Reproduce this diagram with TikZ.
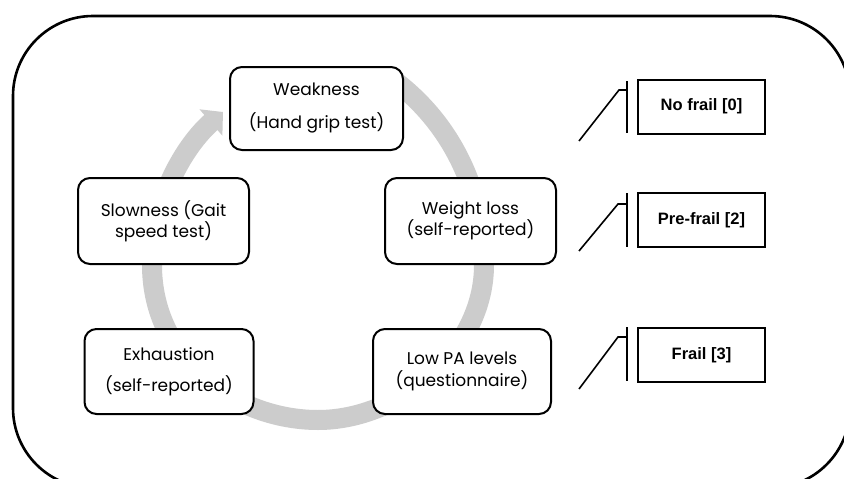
\documentclass[tikz,border=0pt]{standalone}
\usepackage{fontspec}
\setmainfont{Poppins}
\newfontfamily\labfont{Liberation Sans}
\usetikzlibrary{arrows.meta}
\definecolor{ringgray}{RGB}{204,204,204}
\tikzset{
  factor/.style={draw=black, line width=2pt, rounded corners=12pt, fill=white, align=center, inner sep=2pt},
  levelbox/.style={draw=black, line width=2pt, fill=white, minimum width=127pt, minimum height=54pt, font=\labfont\bfseries\fontsize{16.5}{18}\selectfont, inner sep=0pt},
  callout/.style={draw=black, line width=1.6pt},
  ring/.style={draw=ringgray, line width=20pt, -{Triangle[length=16pt,width=34pt]}}
}
\begin{document}
\begin{tikzpicture}[x=1pt,y=-1pt]
\useasboundingbox (0,0) rectangle (844,479);
\clip (0,0) rectangle (844,479);
\fill[white] (0,0) rectangle (844,479);
% outer frame
\draw[line width=2.6pt, rounded corners=80pt] (13,16) rectangle (850,488);
% ring arrow
\draw[ring] (385,74) .. controls (450,118) and (484,190) .. (484,265)
   .. controls (484,350) and (400,420) .. (318,420)
   .. controls (236,420) and (152,360) .. (152,265)
   .. controls (152,200) and (185,145) .. (223,112);
% factor boxes
\node[factor, minimum width=173pt, minimum height=83pt, font=\fontsize{17}{33}\selectfont] (weak) at (316.5,108.5) {Weakness\\(Hand grip test)};
\node[factor, minimum width=171pt, minimum height=86pt, font=\fontsize{17}{21}\selectfont] (wloss) at (470.5,221) {Weight loss\\(self-reported)};
\node[factor, minimum width=171pt, minimum height=86pt, font=\fontsize{17}{21}\selectfont] (slow) at (163.5,221) {Slowness (Gait\\speed test)};
\node[factor, minimum width=169pt, minimum height=85pt, font=\fontsize{17}{31}\selectfont] (exh) at (169,371.5) {Exhaustion\\(self-reported)};
\node[factor, minimum width=178pt, minimum height=85pt, font=\fontsize{17}{22}\selectfont] (lowpa) at (462,371.5) {Low PA levels\\(questionnaire)};
% level boxes
\node[levelbox] (nofrail) at (701.5,106.5) {No frail [0]};
\node[levelbox] (prefrail) at (701.5,220) {Pre-frail [2]};
\node[levelbox] (frail) at (701.5,355) {Frail [3]};
% callout lines
\coordinate (c1a) at (579,141); \coordinate (c1b) at (619,90); \coordinate (c1c) at (627,90);
\coordinate (c1t) at (627,81); \coordinate (c1d) at (627,133);
\draw[callout] (c1a) -- (c1b) -- (c1c);
\draw[callout] (c1t) -- (c1d);
\coordinate (c2a) at (579,251); \coordinate (c2b) at (618,204); \coordinate (c2c) at (627,204);
\coordinate (c2t) at (627,193); \coordinate (c2d) at (627,247);
\draw[callout] (c2a) -- (c2b) -- (c2c);
\draw[callout] (c2t) -- (c2d);
\coordinate (c3a) at (579,389); \coordinate (c3b) at (618,337); \coordinate (c3c) at (627,337);
\coordinate (c3t) at (627,327); \coordinate (c3d) at (627,381);
\draw[callout] (c3a) -- (c3b) -- (c3c);
\draw[callout] (c3t) -- (c3d);
\end{tikzpicture}
\end{document}
